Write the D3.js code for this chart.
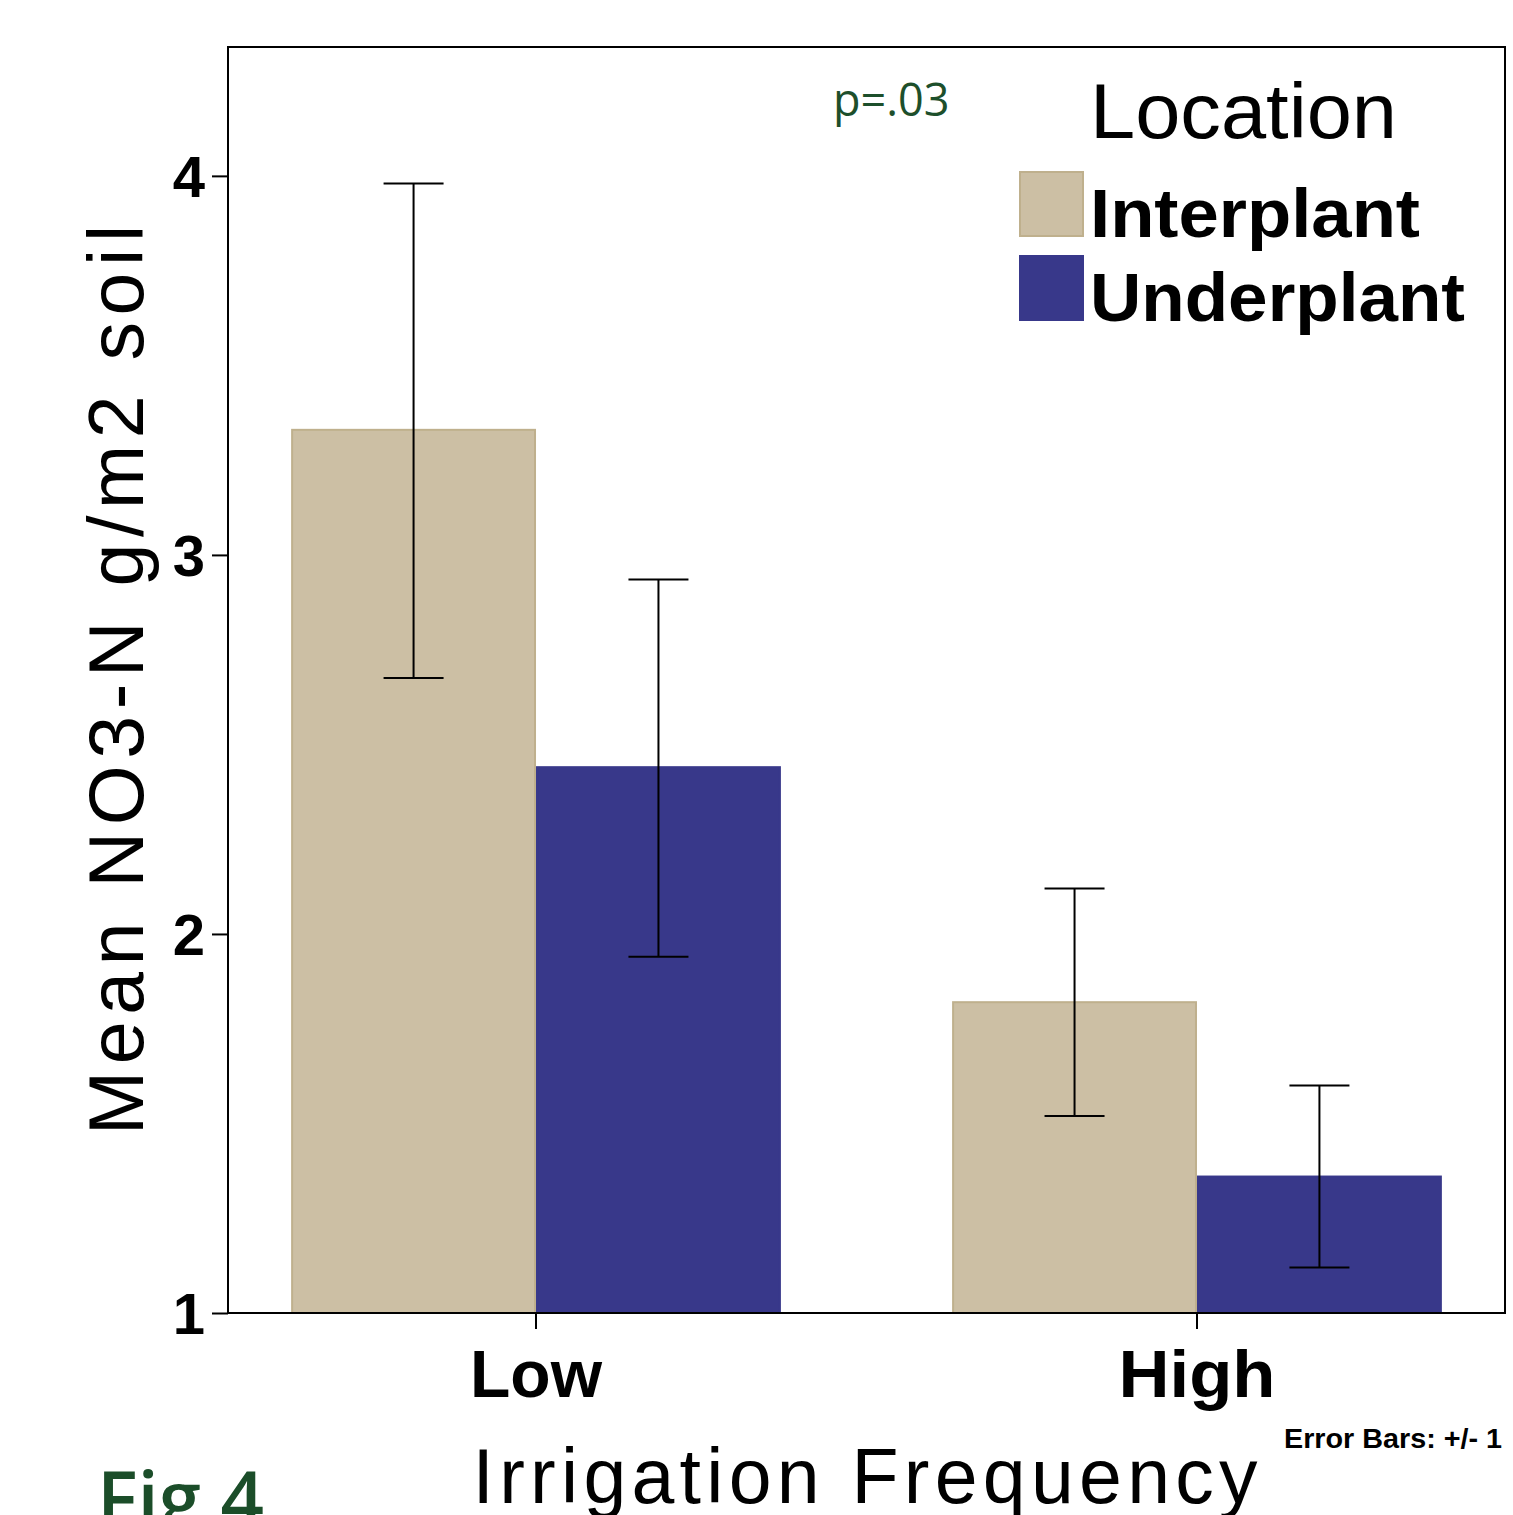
<!DOCTYPE html>
<html>
<head>
<meta charset="utf-8">
<script src="https://cdn.jsdelivr.net/npm/d3@7"></script>
<style>
  body { margin: 0; background: #fff; }
  svg { display: block; }
</style>
</head>
<body>
<svg class="canvas"></svg>
<script>
// Data
const categories = ["Low", "High"];
const locations = ["Interplant", "Underplant"];
const means = {Low: [3.33, 2.44], High: [1.82, 1.36]};
const errLow = {Low: [2.675, 1.94], High: [1.52, 1.12]};
const errHigh = {Low: [3.98, 2.935], High: [2.12, 1.60]};
const yTicks = [1, 2, 3, 4];

const colors = {Interplant: "#ccbfa4", Underplant: "#38388a"};
const strokes = {Interplant: "#bfb08d", Underplant: "#38388a"};

// Setting constants
const wWidth = 1513, wHeight = 1515;
const plot = {left: 228, right: 1505, top: 47, bottom: 1313};
const arial = "Liberation Sans, Arial, sans-serif";

const svg = d3.select(".canvas")
    .attr("width", wWidth)
    .attr("height", wHeight);

// Scales
const yScale = d3.scaleLinear()
    .domain([1, 4.34])
    .range([plot.bottom, plot.top]);

const xScale = d3.scaleBand()
    .domain(categories)
    .range([plot.left, plot.right])
    .paddingInner(0.259)
    .paddingOuter(0.0955);

const xSub = d3.scaleBand()
    .domain(locations)
    .range([0, xScale.bandwidth()]);

// Bars
const rows = [];
categories.forEach(c => locations.forEach((l, i) => {
    rows.push({cat: c, loc: l, v: means[c][i], lo: errLow[c][i], hi: errHigh[c][i]});
}));

const bars = svg.append("g");
bars.selectAll("rect")
    .data(rows)
    .enter()
    .append("rect")
    .attr("x", d => xScale(d.cat) + xSub(d.loc) + 1)
    .attr("y", d => yScale(d.v))
    .attr("width", xSub.bandwidth() - 2)
    .attr("height", d => yScale(1) - yScale(d.v))
    .attr("fill", d => colors[d.loc])
    .attr("stroke", d => strokes[d.loc])
    .attr("stroke-width", 2);

// Error bars
const errs = svg.append("g").attr("stroke", "#000").attr("stroke-width", 2);
rows.forEach(d => {
    const cx = xScale(d.cat) + xSub(d.loc) + xSub.bandwidth() / 2;
    errs.append("line").attr("x1", cx).attr("x2", cx)
        .attr("y1", yScale(d.hi)).attr("y2", yScale(d.lo));
    [d.hi, d.lo].forEach(v => {
        errs.append("line").attr("x1", cx - 30).attr("x2", cx + 30)
            .attr("y1", yScale(v)).attr("y2", yScale(v));
    });
});

// Frame
svg.append("rect")
    .attr("x", plot.left).attr("y", plot.top)
    .attr("width", plot.right - plot.left)
    .attr("height", plot.bottom - plot.top)
    .attr("fill", "none")
    .attr("stroke", "#000")
    .attr("stroke-width", 2);

// Axes
const yAxis = d3.axisLeft(yScale).tickValues(yTicks).tickSize(16).tickPadding(8).tickFormat(d3.format("d"));
const yAxisGroup = svg.append("g")
    .attr("transform", `translate(${plot.left}, 0)`)
    .call(yAxis);
yAxisGroup.select(".domain").remove();
yAxisGroup.selectAll("line").attr("stroke-width", 2);
yAxisGroup.selectAll("text")
    .attr("font-family", arial)
    .attr("font-weight", "bold")
    .attr("font-size", 58)
    .attr("dy", "0.36em")
    .attr("x", -23)
    .attr("fill", "#000");

const xAxis = d3.axisBottom(xScale).tickSize(16).tickPadding(20);
const xAxisGroup = svg.append("g")
    .attr("transform", `translate(0, ${plot.bottom})`)
    .call(xAxis);
xAxisGroup.select(".domain").remove();
xAxisGroup.selectAll("line")
    .attr("stroke-width", 2)
    .attr("transform", `translate(${-xScale.bandwidth() / 2 + xSub.bandwidth()}, 0)`);
xAxisGroup.selectAll("text")
    .attr("font-family", arial)
    .attr("font-weight", "bold")
    .attr("font-size", 67)
    .attr("dy", "0.71em")
    .attr("fill", "#000")
    .attr("textLength", d => d === "High" ? 157 : 132)
    .attr("lengthAdjust", "spacingAndGlyphs")
    .attr("transform", `translate(${-xScale.bandwidth() / 2 + xSub.bandwidth()}, 0)`);

// Axis titles
svg.append("text")
    .attr("transform", "translate(143, 680) rotate(-90)")
    .attr("text-anchor", "middle")
    .attr("font-family", arial)
    .attr("font-size", 77)
    .attr("textLength", 910)
    .attr("lengthAdjust", "spacing")
    .text("Mean NO3-N  g/m2 soil");

svg.append("text")
    .attr("x", 865).attr("y", 1503)
    .attr("text-anchor", "middle")
    .attr("font-family", arial)
    .attr("font-size", 77)
    .attr("textLength", 785)
    .attr("lengthAdjust", "spacing")
    .text("Irrigation Frequency");

// Legend
const legend = svg.append("g");
legend.append("text")
    .attr("x", 1090).attr("y", 138)
    .attr("font-family", arial)
    .attr("font-size", 77)
    .attr("textLength", 307)
    .attr("lengthAdjust", "spacingAndGlyphs")
    .text("Location");
const legY = [172, 256];
const legW = [330, 375];
locations.forEach((l, i) => {
    legend.append("rect")
        .attr("x", 1020).attr("y", legY[i])
        .attr("width", 63).attr("height", 64)
        .attr("fill", colors[l])
        .attr("stroke", strokes[l])
        .attr("stroke-width", 2);
    legend.append("text")
        .attr("x", 1090).attr("y", legY[i] + 65)
        .attr("font-family", arial)
        .attr("font-weight", "bold")
        .attr("font-size", 69)
        .attr("textLength", legW[i])
        .attr("lengthAdjust", "spacingAndGlyphs")
        .text(l);
});

// Annotations
svg.append("text")
    .attr("x", 833).attr("y", 116)
    .attr("font-family", "Open Sans, Noto Sans, sans-serif")
    .attr("font-size", 45)
    .attr("fill", "#1d4f2b")
    .text("p=.03");

svg.append("text")
    .attr("x", 1502).attr("y", 1448)
    .attr("text-anchor", "end")
    .attr("font-family", arial)
    .attr("font-weight", "bold")
    .attr("font-size", 28)
    .attr("textLength", 218)
    .attr("lengthAdjust", "spacingAndGlyphs")
    .text("Error Bars: +/- 1");

svg.append("text")
    .attr("x", 97).attr("y", 1526)
    .attr("font-family", "Open Sans, Noto Sans, sans-serif")
    .attr("font-weight", 600)
    .attr("font-size", 76)
    .attr("fill", "#1b4d29")
    .text("Fig 4");
</script>
</body>
</html>
